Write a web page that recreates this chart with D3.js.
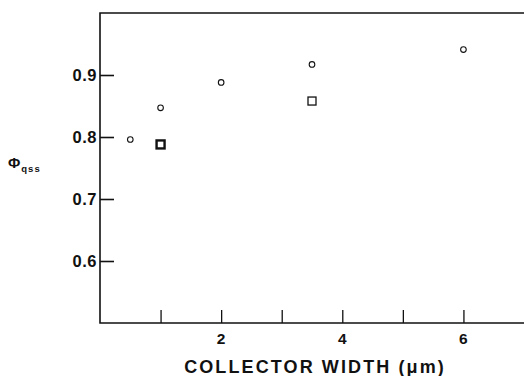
<!DOCTYPE html>
<html>
<head>
<meta charset="utf-8">
<script src="https://cdn.jsdelivr.net/npm/d3@7"></script>
<style>
  body { margin: 0; background: #fff; }
  text { font-family: "Liberation Sans", Arial, sans-serif; font-weight: bold; fill: #111; }
</style>
</head>
<body>
<div id="chart"></div>
<script>
// circles: open circles, squares: open squares
var circleX = [0.5, 1, 2, 3.5, 6];
var circleY = [0.796, 0.847, 0.888, 0.917, 0.941];
var squareX = [1, 3.5];
var squareY = [0.788, 0.858];
var xTicks = [1, 2, 3, 4, 5, 6];
var xLabels = [2, 4, 6];
var yTicks = [0.6, 0.7, 0.8, 0.9];

var width = 524, height = 376;
var plotLeft = 100, plotRight = 524, plotTop = 13, plotBottom = 323;

var svg = d3.select("#chart").append("svg")
  .attr("width", width)
  .attr("height", height);

var x = d3.scaleLinear().domain([0, 7]).range([plotLeft, plotRight]);
var y = d3.scaleLinear().domain([0.5, 1.0]).range([plotBottom, plotTop]);

// frame: left, bottom, top
svg.append("path")
  .attr("d", "M" + plotRight + "," + plotTop + "H" + plotLeft + "V" + plotBottom + "H" + plotRight)
  .attr("fill", "none")
  .attr("stroke", "#111")
  .attr("stroke-width", 1.6);

// y ticks pointing inward
svg.append("g")
  .attr("transform", "translate(" + plotLeft + ",0)")
  .call(d3.axisRight(y).tickValues(yTicks).tickSize(14).tickFormat(""))
  .call(g => g.select(".domain").remove())
  .call(g => g.selectAll("line").attr("stroke", "#111").attr("stroke-width", 1.6));

svg.selectAll(".ylab")
  .data(yTicks)
  .enter().append("text")
  .attr("class", "ylab")
  .attr("x", plotLeft - 3)
  .attr("y", d => y(d) + 6)
  .attr("text-anchor", "end")
  .style("font-size", "16.5px")
  .style("letter-spacing", "0.5px")
  .text(d => d3.format(".1f")(d));

// x ticks pointing upward
svg.append("g")
  .attr("transform", "translate(0," + plotBottom + ")")
  .call(d3.axisTop(x).tickValues(xTicks).tickSize(13).tickFormat(""))
  .call(g => g.select(".domain").remove())
  .call(g => g.selectAll("line").attr("stroke", "#111").attr("stroke-width", 1.3));

svg.selectAll(".xlab")
  .data(xLabels)
  .enter().append("text")
  .attr("class", "xlab")
  .attr("x", d => x(d))
  .attr("y", plotBottom + 21)
  .attr("text-anchor", "middle")
  .style("font-size", "15.5px")
  .text(d => d);

svg.append("text")
  .attr("x", 315)
  .attr("y", 373)
  .attr("text-anchor", "middle")
  .style("font-size", "18px")
  .style("letter-spacing", "2.1px")
  .text("COLLECTOR WIDTH (μm)");

var ylab = svg.append("text")
  .attr("x", 8)
  .attr("y", 168)
  .style("font-size", "15px");
ylab.append("tspan").text("Φ");
ylab.append("tspan").attr("dy", 4).attr("dx", 1).style("font-size", "9.5px").style("letter-spacing", "1px").text("qss");

// data
svg.selectAll(".circ")
  .data(circleX)
  .enter().append("circle")
  .attr("cx", d => x(d))
  .attr("cy", (d, i) => y(circleY[i]))
  .attr("r", 2.8)
  .attr("fill", "none")
  .attr("stroke", "#111")
  .attr("stroke-width", 1.1);

svg.selectAll(".sq")
  .data(squareX)
  .enter().append("rect")
  .attr("x", d => x(d) - 4)
  .attr("y", (d, i) => y(squareY[i]) - 4)
  .attr("width", 8)
  .attr("height", 8)
  .attr("fill", "none")
  .attr("stroke", "#111")
  .attr("stroke-width", (d, i) => i === 0 ? 2.4 : 1.3);
</script>
</body>
</html>
